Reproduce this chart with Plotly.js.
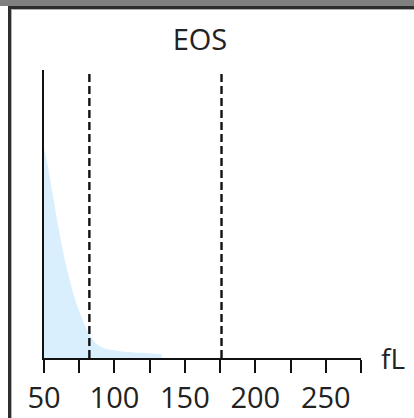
<!DOCTYPE html>
<html>
<head>
<meta charset="utf-8">
<script src="https://cdn.plot.ly/plotly-3.0.1.min.js"></script>
<style>
  html, body { margin: 0; padding: 0; background: #ffffff; }
  #wrap { position: relative; width: 414px; height: 418px; overflow: hidden; }
  #chart { position: absolute; left: 0; top: 0; width: 414px; height: 418px; }
  .frame { position: absolute; pointer-events: none; }
</style>
</head>
<body>
<div id="wrap">
  <div id="chart"></div>
  <div class="frame" style="left:0;top:0;width:414px;height:6px;background:#808080;"></div>
  <div class="frame" style="left:8px;top:6px;right:0;height:3px;background:#2e2e2e;"></div>
  <div class="frame" style="left:8px;top:9px;right:0;height:1px;background:#b0b0b0;"></div>
  <div class="frame" style="left:8px;top:6px;width:3px;bottom:0;background:#2e2e2e;"></div>
  <div class="frame" style="left:11px;top:9px;width:1px;bottom:0;background:#b0b0b0;"></div>
</div>
<script>
// Distribution curve (volume in fL vs relative count, %)
const volumeFL = [50, 53, 56.5, 60, 63.5, 67, 70.5, 74, 78, 82, 86, 90, 95, 105, 120, 133.5];
const relCount = [73, 66, 56, 46, 37, 29.5, 23, 17.5, 12.5, 8.5, 5.5, 4, 3, 2.3, 1.8, 1.3];
// Discriminator (threshold) positions, fL
const thresholds = [82.2, 176];
// Axis ticks
const tickValues = [50, 75, 100, 125, 150, 175, 200, 225, 250, 275];
const tickLabels = ['50', '', '100', '', '150', '', '200', '', '250', ''];
const chartTitle = 'EOS';
const unitLabel = 'fL';

const trace = {
  x: volumeFL,
  y: relCount,
  type: 'scatter',
  mode: 'lines',
  line: { width: 0, shape: 'spline', smoothing: 0.6 },
  fill: 'tozeroy',
  fillcolor: 'rgb(218,239,253)',
  hoverinfo: 'skip',
  showlegend: false
};

const shapes = thresholds.map(t => ({
  type: 'line', xref: 'x', yref: 'y',
  x0: t, x1: t, y0: 0, y1: 100,
  line: { color: '#111111', width: 2.4, dash: '8px,4px' }
}));

const layout = {
  width: 414, height: 418,
  margin: { l: 44, r: 53, t: 70, b: 60, pad: 0 },
  paper_bgcolor: 'rgba(0,0,0,0)',
  plot_bgcolor: 'rgba(0,0,0,0)',
  font: { family: 'Open Sans, sans-serif', color: '#222222' },
  title: {
    text: chartTitle,
    font: { family: 'Open Sans, sans-serif', size: 29, color: '#222222' },
    xref: 'container', yref: 'container',
    x: 200 / 414, xanchor: 'center',
    y: 1 - 40 / 418, yanchor: 'middle'
  },
  xaxis: {
    range: [50, 275],
    tickmode: 'array',
    tickvals: tickValues,
    ticktext: tickLabels,
    ticks: 'outside', ticklen: 13, tickwidth: 2, tickcolor: '#111111',
    showline: true, linecolor: '#111111', linewidth: 2,
    showgrid: false, zeroline: false,
    tickfont: { family: 'Open Sans, sans-serif', size: 29, color: '#222222' },
    fixedrange: true
  },
  yaxis: {
    range: [0, 100],
    showline: true, linecolor: '#111111', linewidth: 2,
    showticklabels: false, ticks: '',
    showgrid: false, zeroline: false,
    fixedrange: true
  },
  shapes: shapes,
  annotations: [{
    text: unitLabel,
    xref: 'paper', yref: 'paper',
    x: (393 - 44) / 317, y: 0.0,
    xanchor: 'center', yanchor: 'middle',
    showarrow: false,
    font: { family: 'Open Sans, sans-serif', size: 28, color: '#222222' }
  }]
};

Plotly.newPlot('chart', [trace], layout, { displayModeBar: false, staticPlot: true });
</script>
</body>
</html>
